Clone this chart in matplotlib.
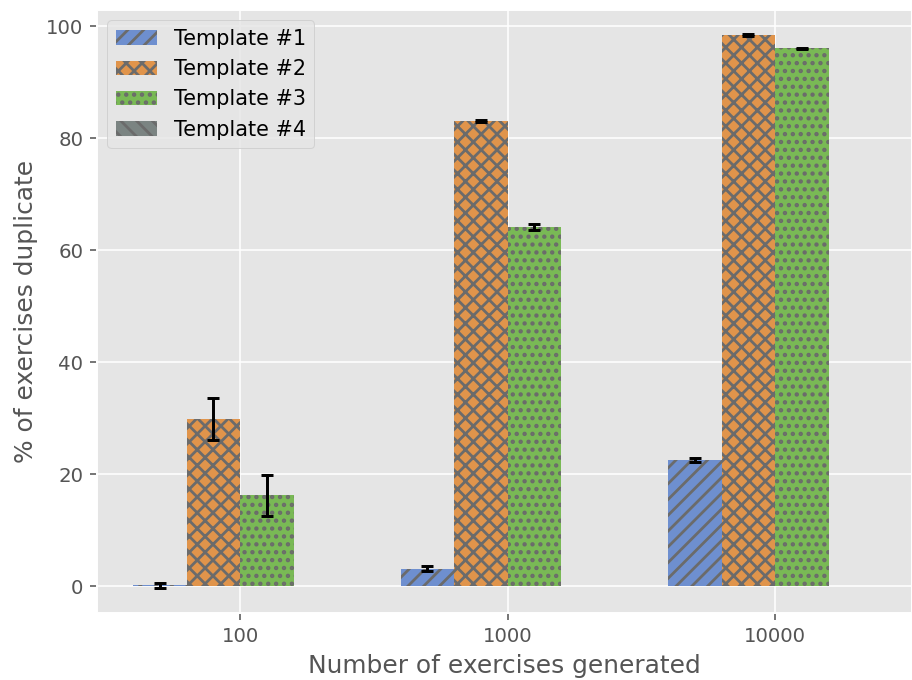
import numpy as np
import matplotlib
matplotlib.use('Agg')
import matplotlib.pyplot as plt

plt.style.use('ggplot')
plt.rcParams['hatch.linewidth'] = 1.4

# number of generated exercises (x groups)
sizes = ['100', '1000', '10000']
templates = ['Template #1', 'Template #2', 'Template #3', 'Template #4']

# % duplicate, one list per template
t1 = [0.1, 3.1, 22.5]
t2 = [29.8, 83.1, 98.4]
t3 = [16.2, 64.1, 96.0]
t4 = [0.0, 0.0, 0.0]

t1_err = [0.4, 0.5, 0.4]
t2_err = [3.7, 0.2, 0.1]
t3_err = [3.7, 0.5, 0.15]

colors = ['#6e8fcf', '#e0944b', '#79b955', '#7b8482']
hatches = ['///', 'xxx', '...', '\\\\\\']

fig = plt.figure(figsize=(6.4, 680 / 142.5), dpi=142.5)
ax = fig.add_axes([97 / 912, 67 / 680, 1 - 97 / 912, 603 / 680])

x = np.arange(len(sizes))
w = 0.2
vals = [t1, t2, t3, t4]
errs = [t1_err, t2_err, t3_err, None]
for i in range(4):
    pos = x + (i - 1.5) * w
    ax.bar(pos, vals[i], w, color=colors[i], hatch=hatches[i],
           edgecolor='#6b6b6b', linewidth=0, label=templates[i])
    if errs[i] is not None:
        ax.errorbar(pos, vals[i], yerr=errs[i], fmt='none', ecolor='black',
                    elinewidth=1.5, capsize=3, capthick=1.5)

ax.set_xticks(x)
ax.set_xticklabels(sizes)
ax.set_xlim(-0.5346, 2.512)
ax.set_ylim(-4.82, 102.86)
ax.set_xlabel('Number of exercises generated', fontsize=12.6)
ax.set_ylabel('% of exercises duplicate', fontsize=12.6)
ax.legend(loc='upper left', fontsize=10.5)

fig.savefig('out.png', dpi=142.5)
